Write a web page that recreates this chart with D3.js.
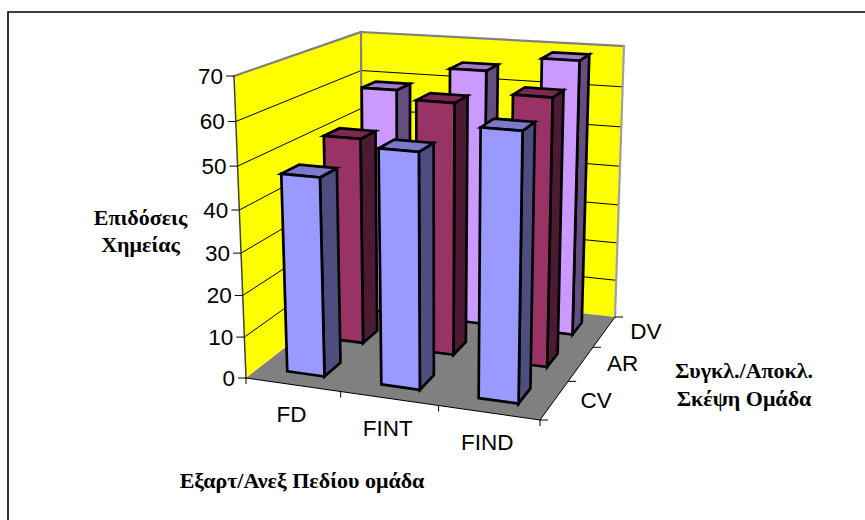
<!DOCTYPE html>
<html>
<head>
<meta charset="utf-8">
<script src="https://cdn.jsdelivr.net/npm/d3@7"></script>
<style>
	html, body { margin: 0; padding: 0; background: #fff; }
	text { fill: #000; }
	.tick_lbl { font-family: "Liberation Sans", Arial, sans-serif; font-size: 22.5px; }
	.axis_title { font-family: "Liberation Serif", "Times New Roman", serif; font-size: 22px; font-weight: bold; }
</style>
</head>
<body>
<svg id="svg_chart" width="865" height="520"></svg>
<script>
var categories = ["FD", "FINT", "FIND"];
var series = ["CV", "AR", "DV"];
var value_ticks = [0, 10, 20, 30, 40, 50, 60, 70];

var values_cv = [47.3, 55.1, 61.6];
var values_ar = [51.2, 61.4, 64.3];
var values_dv = [58.7, 64.9, 68.7];

var fills_front = ["#9999ff", "#993366", "#cc99ff"];
var fills_side = ["#4d4d80", "#4d1a33", "#664d80"];
var fills_top = ["#7a7acc", "#7a2952", "#a37acc"];

var all_values = [values_cv, values_ar, values_dv];

// the 3d box as it lands on the page, everything else is interpolated
var box = {
	flb: [246, 378], frb: [540, 420], brb: [615, 317], blb: [362, 288],
	flt: [234, 76], frt: [546, 100], brt: [624, 46], blt: [361, 32]
};

var x_unit = d3.scaleBand().domain(categories).range([0, 1]).paddingInner(0.6).paddingOuter(0.3);
var z_unit = d3.scaleBand().domain(series).range([0, 1]).paddingInner(0.6).paddingOuter(0.3);
var y_unit = d3.scaleLinear().domain([0, 70]).range([0, 1]);

var mix = d3.interpolateArray;

// foreshortening along one axis
function fn_persp(t, a) {
	return a * t / (1 + (a - 1) * t);
}

function fn_project(u, v, w) {
	u = fn_persp(u, 0.95);
	v = fn_persp(v, 0.94);
	w = fn_persp(w, 1.2);
	var front = mix(mix(box.flb, box.frb)(u), mix(box.flt, box.frt)(u))(v);
	var back = mix(mix(box.blb, box.brb)(u), mix(box.blt, box.brt)(u))(v);
	return mix(front, back)(w);
}

function fn_poly(pts) {
	return "M" + pts.map(function(p) { return fn_project(p[0], p[1], p[2]).join(","); }).join("L") + "Z";
}

function fn_line(sel, a, b, colour, width) {
	var p = fn_project(a[0], a[1], a[2]), q = fn_project(b[0], b[1], b[2]);
	return sel.append("line")
		.attr("x1", p[0]).attr("y1", p[1])
		.attr("x2", q[0]).attr("y2", q[1])
		.attr("stroke", colour)
		.attr("stroke-width", width)
		.attr("stroke-linecap", "square");
}

var svg = d3.select("svg#svg_chart");

// outer frame, only left and top show in the window
svg.append("path")
	.attr("d", "M8,520V12H865")
	.attr("fill", "none")
	.attr("stroke", "#000")
	.attr("stroke-width", 1.6);

var g_walls = svg.append("g");

g_walls.append("path").attr("d", fn_poly([[0, 0, 0], [0, 1, 0], [0, 1, 1], [0, 0, 1]])).attr("fill", "#ffff00");
g_walls.append("path").attr("d", fn_poly([[0, 0, 1], [0, 1, 1], [1, 1, 1], [1, 0, 1]])).attr("fill", "#ffff00");
g_walls.append("path").attr("d", fn_poly([[0, 0, 0], [1, 0, 0], [1, 0, 1], [0, 0, 1]])).attr("fill", "#808080");

// gridlines on both walls
value_ticks.slice(1, -1).forEach(function(t) {
	var v = y_unit(t);
	fn_line(g_walls, [0, v, 0], [0, v, 1], "#000", 1);
	fn_line(g_walls, [0, v, 1], [1, v, 1], "#000", 1);
});

// wall edges
fn_line(g_walls, [0, 1, 0], [0, 1, 1], "#808080", 2.2);
fn_line(g_walls, [0, 1, 1], [1, 1, 1], "#808080", 2.2);
fn_line(g_walls, [0, 0, 1], [0, 1, 1], "#808080", 2.2);
fn_line(g_walls, [1, 0, 1], [1, 1, 1], "#a0a0a0", 2.2);
fn_line(g_walls, [0, 0, 0], [0, 1, 0], "#404040", 1.5);

// floor edges
fn_line(g_walls, [0, 0, 0], [1, 0, 0], "#000", 1);
fn_line(g_walls, [1, 0, 0], [1, 0, 1], "#000", 1);

// bars, back row first, left to right
var g_bars = svg.append("g");

d3.range(series.length).reverse().forEach(function(s) {
	categories.forEach(function(cat, c) {
		var u0 = x_unit(cat), u1 = u0 + x_unit.bandwidth();
		var w0 = z_unit(series[s]), w1 = w0 + z_unit.bandwidth();
		var v = y_unit(all_values[s][c]);
		var g = g_bars.append("g")
			.attr("stroke", "#000")
			.attr("stroke-width", 2.7)
			.attr("stroke-linejoin", "miter");
		g.append("path").attr("d", fn_poly([[u1, 0, w0], [u1, 0, w1], [u1, v, w1], [u1, v, w0]])).attr("fill", fills_side[s]);
		g.append("path").attr("d", fn_poly([[u0, v, w0], [u1, v, w0], [u1, v, w1], [u0, v, w1]])).attr("fill", fills_top[s]);
		g.append("path").attr("d", fn_poly([[u0, 0, w0], [u1, 0, w0], [u1, v, w0], [u0, v, w0]])).attr("fill", fills_front[s]);
	});
});

// value axis
var g_axis = svg.append("g");

value_ticks.forEach(function(t) {
	var p = fn_project(0, y_unit(t), 0);
	g_axis.append("line")
		.attr("x1", p[0] - 8).attr("y1", p[1])
		.attr("x2", p[0]).attr("y2", p[1])
		.attr("stroke", "#000");
	g_axis.append("text")
		.attr("class", "tick_lbl")
		.attr("x", p[0] - 11)
		.attr("y", p[1] + 8)
		.attr("text-anchor", "end")
		.text(t);
});

// category axis along the front of the floor
d3.range(categories.length + 1).forEach(function(i) {
	var p = fn_project(i / categories.length, 0, 0);
	g_axis.append("line")
		.attr("x1", p[0]).attr("y1", p[1])
		.attr("x2", p[0]).attr("y2", p[1] + 6)
		.attr("stroke", "#000");
});
categories.forEach(function(cat, i) {
	var p = fn_project((i + 0.5) / categories.length, 0, 0);
	g_axis.append("text")
		.attr("class", "tick_lbl")
		.attr("x", p[0] - 1.5)
		.attr("y", p[1] + 37.5)
		.attr("text-anchor", "middle")
		.text(cat);
});

// series axis along the right of the floor
d3.range(series.length + 1).forEach(function(i) {
	var p = fn_project(1, 0, i / series.length);
	g_axis.append("line")
		.attr("x1", p[0]).attr("y1", p[1])
		.attr("x2", p[0] + 8).attr("y2", p[1])
		.attr("stroke", "#000");
});
series.forEach(function(name, i) {
	var p = fn_project(1, 0, (i + 0.5) / series.length);
	g_axis.append("text")
		.attr("class", "tick_lbl")
		.attr("x", p[0] + 26)
		.attr("y", p[1] + 7.5)
		.text(name);
});

// axis titles
function fn_title(lines, x, y, step) {
	lines.forEach(function(txt, i) {
		svg.append("text")
			.attr("class", "axis_title")
			.attr("x", x)
			.attr("y", y + i * step)
			.attr("text-anchor", "middle")
			.text(txt);
	});
}

fn_title(["Επιδόσεις", "Χημείας"], 140.5, 225, 27);
fn_title(["Συγκλ./Αποκλ.", "Σκέψη Ομάδα"], 744, 378, 28);
fn_title(["Εξαρτ/Ανεξ Πεδίου ομάδα"], 302, 488, 0);
</script>
</body>
</html>
